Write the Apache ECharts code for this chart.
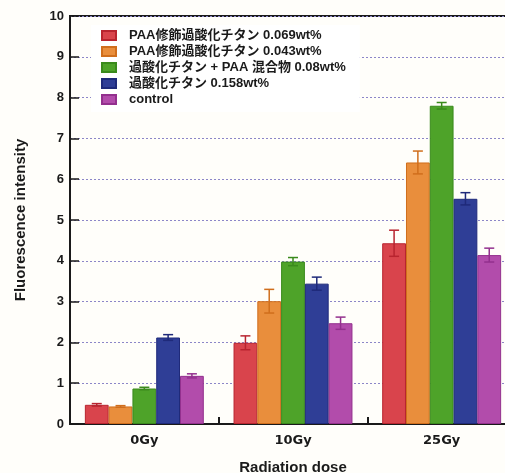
<!DOCTYPE html>
<html>
<head>
<meta charset="utf-8">
<script src="https://cdn.jsdelivr.net/npm/echarts@6/dist/echarts.min.js"></script>
<style>
  html, body { margin: 0; padding: 0; background: #fffefa; }
  #chart { width: 505px; height: 473px; }
</style>
</head>
<body>
<div id="chart"></div>
<script>
// Radiation dose groups
const categories = ['0Gy', '10Gy', '25Gy'];

// Sample names
const seriesNames = [
  'PAA修飾過酸化チタン 0.069wt%',
  'PAA修飾過酸化チタン 0.043wt%',
  '過酸化チタン + PAA 混合物 0.08wt%',
  '過酸化チタン 0.158wt%',
  'control'
];

// Mean fluorescence intensity per sample (0Gy, 10Gy, 25Gy)
const paa069 = [0.47, 1.99, 4.43];
const paa043 = [0.43, 3.01, 6.41];
const mixture = [0.87, 3.98, 7.80];
const tio158 = [2.12, 3.44, 5.52];
const control = [1.18, 2.47, 4.14];

// Error bar half-widths (±)
const paa069Err = [0.03, 0.17, 0.32];
const paa043Err = [0.02, 0.29, 0.28];
const mixtureErr = [0.03, 0.10, 0.08];
const tio158Err = [0.07, 0.16, 0.15];
const controlErr = [0.05, 0.15, 0.17];

const yTicks = [0, 1, 2, 3, 4, 5, 6, 7, 8, 9, 10];

const values = [paa069, paa043, mixture, tio158, control];
const errors = [paa069Err, paa043Err, mixtureErr, tio158Err, controlErr];
const fills = ['#d9444c', '#e98e3c', '#4ea329', '#2f3e96', '#b24cab'];
const borders = ['#b8242f', '#d06e1c', '#3a8a1c', '#1f2a7a', '#93308e'];

const nSeries = values.length;
const gapRatio = 0.2;

const chart = echarts.init(document.getElementById('chart'));

const barSeries = values.map((vals, i) => ({
  name: seriesNames[i],
  type: 'bar',
  data: vals,
  barGap: '0%',
  barCategoryGap: '20%',
  itemStyle: { color: fills[i], borderColor: borders[i], borderWidth: 1 },
  z: 2
}));

const errorSeries = values.map((vals, i) => ({
  type: 'custom',
  name: seriesNames[i] + ' err',
  data: vals.map((v, j) => [j, v - errors[i][j], v + errors[i][j]]),
  z: 3,
  silent: true,
  renderItem: function (params, api) {
    const catW = api.size([1, 0])[0];
    const barW = catW * (1 - gapRatio) / nSeries;
    const center = api.coord([api.value(0), 0]);
    const x = center[0] - catW * (1 - gapRatio) / 2 + barW * (i + 0.5);
    const lo = api.coord([api.value(0), api.value(1)])[1];
    const hi = api.coord([api.value(0), api.value(2)])[1];
    const cap = 5;
    const style = { stroke: borders[i], lineWidth: 1.5 };
    return {
      type: 'group',
      children: [
        { type: 'line', shape: { x1: x, y1: lo, x2: x, y2: hi }, style: style },
        { type: 'line', shape: { x1: x - cap, y1: hi, x2: x + cap, y2: hi }, style: style },
        { type: 'line', shape: { x1: x - cap, y1: lo, x2: x + cap, y2: lo }, style: style }
      ]
    };
  }
}));

const latin = '"Liberation Sans", Arial, "Noto Sans CJK JP", sans-serif';
const wide = '"DejaVu Sans", "Liberation Sans", sans-serif';

chart.setOption({
  backgroundColor: '#fffefa',
  animation: false,
  textStyle: { fontFamily: latin },
  grid: {
    left: 70, top: 16, width: 446, height: 408,
    outerBoundsMode: 'none',
    show: true, borderColor: '#1a1a1a', borderWidth: 2, backgroundColor: 'transparent'
  },
  legend: {
    data: seriesNames,
    orient: 'vertical',
    left: 91,
    top: 25,
    padding: [4, 14, 6, 10],
    itemGap: 3,
    itemWidth: 14,
    itemHeight: 9,
    icon: 'rect',
    backgroundColor: '#ffffff',
    textStyle: {
      fontFamily: latin,
      fontWeight: 'bold',
      fontSize: 13,
      color: '#1a1a1a',
      lineHeight: 13,
      padding: [0, 0, 0, 8]
    },
    z: 10
  },
  xAxis: {
    type: 'category',
    data: categories,
    name: 'Radiation dose',
    nameLocation: 'middle',
    nameGap: 36,
    nameTextStyle: { fontSize: 15, color: '#1a1a1a', fontWeight: 'bold', fontFamily: latin },
    axisLine: { lineStyle: { color: '#1a1a1a', width: 2 } },
    axisTick: { show: true, inside: true, length: 7, lineStyle: { color: '#1a1a1a', width: 2 } },
    axisLabel: { fontSize: 13, fontWeight: 'bold', color: '#1a1a1a', margin: 10, fontFamily: wide },
    splitLine: { show: false }
  },
  yAxis: {
    type: 'value',
    min: yTicks[0],
    max: yTicks[yTicks.length - 1],
    interval: 1,
    name: 'Fluorescence intensity',
    nameLocation: 'middle',
    nameGap: 42,
    nameTextStyle: { fontSize: 15, color: '#1a1a1a', fontWeight: 'bold', fontFamily: latin },
    axisLine: { show: true, lineStyle: { color: '#1a1a1a', width: 2 } },
    axisTick: { show: true, inside: true, length: 9, lineStyle: { color: '#1a1a1a', width: 1.5 } },
    axisLabel: { fontSize: 13, fontWeight: 'bold', color: '#1a1a1a', margin: 6 },
    splitLine: { show: true, lineStyle: { color: '#8c86c8', width: 1, type: [2, 2] } }
  },
  series: barSeries.concat(errorSeries)
});
</script>
</body>
</html>
